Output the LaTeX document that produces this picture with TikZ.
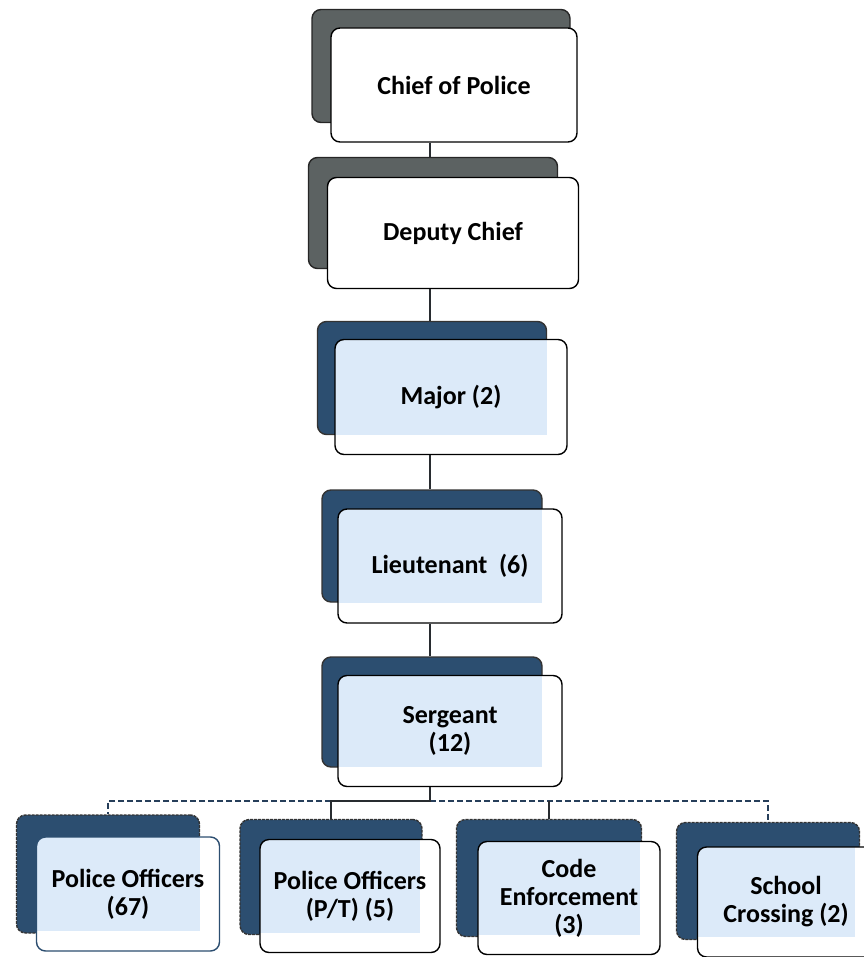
\documentclass[tikz,border=0pt]{standalone}
\usepackage{fontspec}
\setmainfont{Carlito}
\usetikzlibrary{positioning,calc}
\definecolor{backgray}{RGB}{92,98,98}
\definecolor{backblue}{RGB}{44,78,112}
\definecolor{frontblue}{RGB}{220,234,249}
\definecolor{linkblue}{RGB}{38,62,90}
\definecolor{linkgray}{RGB}{40,44,48}

\begin{document}
\begin{tikzpicture}[x=1pt,y=-1pt,
    card/.style={rounded corners=9pt, inner sep=0pt, line width=1.4pt},
    graycard/.style={card, draw=black!85, fill=backgray},
    bluecard/.style={card, draw=black!80, fill=backblue},
    roughcard/.style={bluecard, dash pattern=on 3pt off 1pt},
    whitecard/.style={card, draw=black, fill=white, align=center,
        font=\fontsize{26}{28}\selectfont\bfseries},
    lightcard/.style={whitecard, path picture={
        \fill[frontblue, sharp corners] (path picture bounding box.north west)
            rectangle ($(path picture bounding box.south east)+(-20,-20)$);}},
    link/.style={line width=1.2pt, draw=linkgray},
    dashlink/.style={link, draw=linkblue, dash pattern=on 6pt off 3pt}]
    \useasboundingbox (0,0) rectangle (863,957);

    % top of the chain
    \node[graycard, minimum width=258, minimum height=113] (chiefback) at (441,66) {};
    \node[whitecard, minimum width=246, minimum height=114] (chief) at (454,85) {Chief of Police};
    \node[graycard, minimum width=249, minimum height=111] (deputyback) at (433,213) {};
    \node[whitecard, minimum width=251, minimum height=111] (deputy) at (453,233) {Deputy Chief};

    % ranks
    \node[bluecard, minimum width=229, minimum height=113] (majorback) at (432,378) {};
    \node[lightcard, minimum width=232, minimum height=115] (major) at (451,397) {Major (2)};
    \node[bluecard, minimum width=220, minimum height=112] (lieutback) at (432,546) {};
    \node[lightcard, minimum width=224, minimum height=114] (lieut) at (450,566) {Lieutenant~ (6)};
    \node[bluecard, minimum width=220, minimum height=110] (sergback) at (432,712) {};
    \node[lightcard, minimum width=224, minimum height=111] (serg) at (450,731) {Sergeant\\(12)};

    % bottom row
    \node[roughcard, minimum width=183, minimum height=118] (poback) at (108,874) {};
    \node[lightcard, draw=backblue, minimum width=183, minimum height=114] (po) at (128,894) {Police Officers\\(67)};
    \node[roughcard, minimum width=182, minimum height=115] (ptback) at (331,877) {};
    \node[lightcard, minimum width=180, minimum height=113] (pt) at (350,896) {Police Officers\\(P/T) (5)};
    \node[roughcard, minimum width=185, minimum height=117] (codeback) at (549,878) {};
    \node[lightcard, minimum width=182, minimum height=113] (code) at (569,898) {Code\\Enforcement\\(3)};
    \node[roughcard, minimum width=183, minimum height=117] (schoolback) at (768,881) {};
    \node[lightcard, minimum width=177, minimum height=110] (school) at (786,902) {School\\Crossing (2)};

    % connectors
    \coordinate (bus) at (430,801);
    \draw[link] (chief.south -| bus) -- (deputyback.north -| bus);
    \draw[link] (deputy.south -| bus) -- (majorback.north -| bus);
    \draw[link] (major.south -| bus) -- (lieutback.north -| bus);
    \draw[link] (lieut.south -| bus) -- (sergback.north -| bus);
    \draw[dashlink] (bus -| ptback) -| (poback.north);
    \draw[dashlink] (bus) -| (schoolback.north);
    \draw[link] (serg.south -| bus) -- (bus) -- (bus -| ptback) -- (ptback.north);
    \draw[link] (bus -| codeback) -- (codeback.north);
\end{tikzpicture}
\end{document}
